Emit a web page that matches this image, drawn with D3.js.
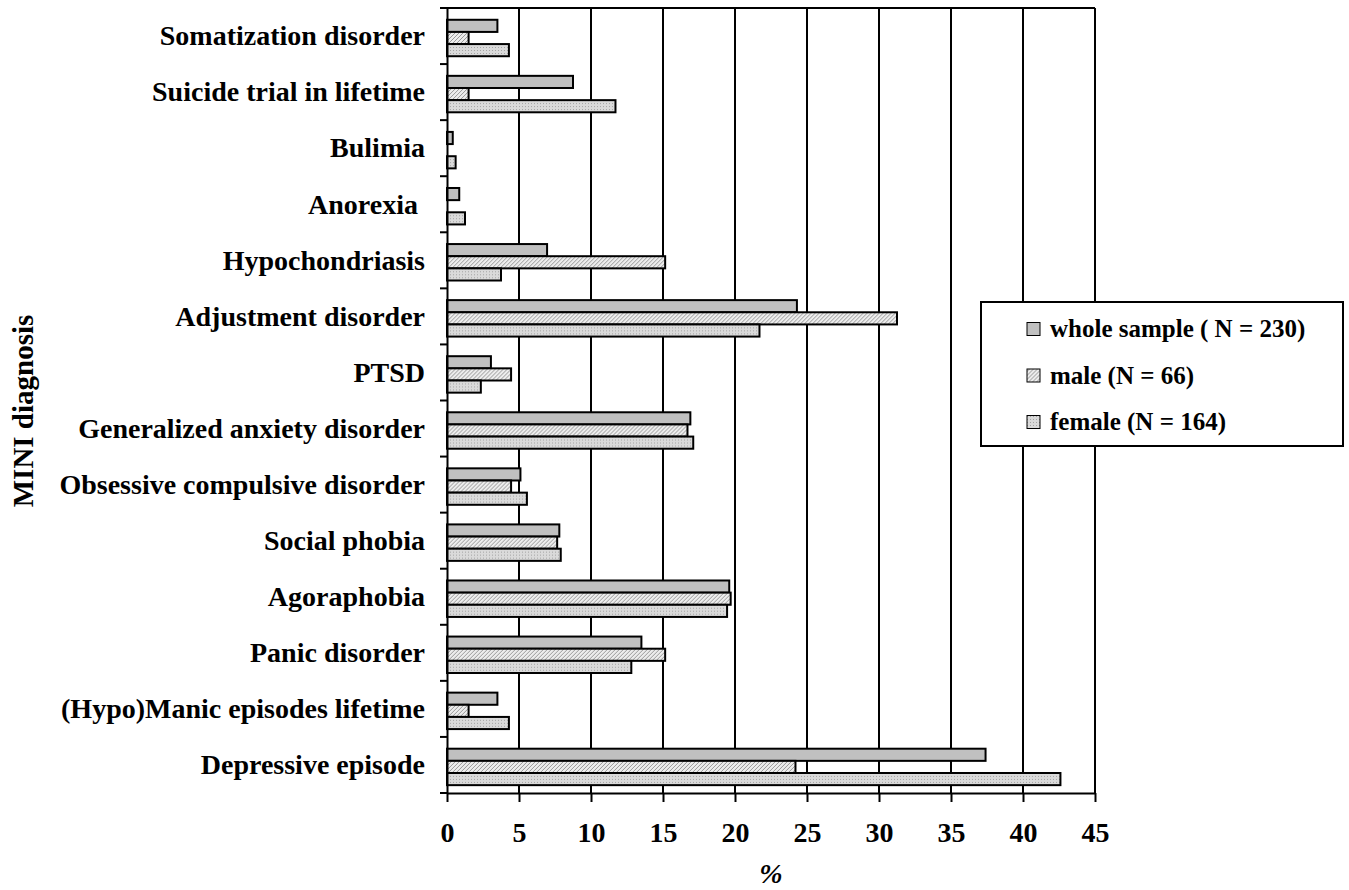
<!DOCTYPE html>
<html>
<head>
<meta charset="utf-8">
<script src="https://cdn.jsdelivr.net/npm/d3@7"></script>
<style>
  body { margin: 0; background: #fff; }
  svg text { font-family: "Liberation Serif", "Times New Roman", serif; font-weight: bold; fill: #000; }
</style>
</head>
<body>
<div id="chart"></div>
<script>
// MINI diagnoses, % of sample (whole / male / female)

const categories = [
  "Somatization disorder", "Suicide trial in lifetime", "Bulimia", "Anorexia ",
  "Hypochondriasis", "Adjustment disorder", "PTSD", "Generalized anxiety disorder",
  "Obsessive compulsive disorder", "Social phobia", "Agoraphobia", "Panic disorder",
  "(Hypo)Manic episodes lifetime", "Depressive episode"
];
const wholeSample = [3.5, 8.75, 0.4, 0.85, 6.95, 24.3, 3.05, 16.9, 5.1, 7.8, 19.6, 13.5, 3.5, 37.4];
const male        = [1.5, 1.5, 0, 0, 15.15, 31.25, 4.45, 16.7, 4.45, 7.65, 19.7, 15.15, 1.5, 24.2];
const female      = [4.3, 11.7, 0.6, 1.25, 3.75, 21.7, 2.35, 17.1, 5.55, 7.9, 19.45, 12.8, 4.3, 42.6];
const seriesNames = ["whole sample ( N = 230)", "male (N = 66)", "female (N = 164)"];
const xTicks = [0, 5, 10, 15, 20, 25, 30, 35, 40, 45];

const width = 1349, height = 890;
const margin = {top: 8, right: 254, bottom: 97, left: 447};

const svg = d3.select("#chart")
  .append("svg")
  .attr("width", width)
  .attr("height", height);

// fills: solid, hatched, dotted
const defs = svg.append("defs");
const hatch = defs.append("pattern").attr("id", "hatch")
  .attr("patternUnits", "userSpaceOnUse").attr("width", 4).attr("height", 4);
hatch.append("rect").attr("width", 4).attr("height", 4).attr("fill", "#ececec");
hatch.append("path").attr("d", "M-1,1 l2,-2 M0,4 l4,-4 M3,5 l2,-2")
  .attr("stroke", "#999").attr("stroke-width", 1);
const dots = defs.append("pattern").attr("id", "dots")
  .attr("patternUnits", "userSpaceOnUse").attr("width", 3).attr("height", 3);
dots.append("rect").attr("width", 3).attr("height", 3).attr("fill", "#dadada");
dots.append("rect").attr("width", 1).attr("height", 1).attr("fill", "#a4a4a4");

const fills = ["#c0c0c0", "url(#hatch)", "url(#dots)"];

const x = d3.scaleLinear()
  .domain([0, 45])
  .range([margin.left, width - margin.right]);

const y = d3.scaleBand()
  .domain(categories)
  .range([margin.top, height - margin.bottom]);

const ySub = d3.scaleBand()
  .domain(seriesNames)
  .range([y.bandwidth() * 0.21, y.bandwidth() * 0.86]);

const rows = categories.map((c, i) => ({
  cat: c,
  vals: [wholeSample[i], male[i], female[i]]
}));

// vertical grid lines (also the right border)
svg.append("g")
  .selectAll("line")
  .data(xTicks.slice(1))
  .join("line")
  .attr("x1", d => x(d)).attr("x2", d => x(d))
  .attr("y1", y.range()[0]).attr("y2", y.range()[1])
  .attr("stroke", "#000").attr("stroke-width", 2);

// top border
svg.append("line")
  .attr("x1", x(0) - 6).attr("x2", x(45))
  .attr("y1", y.range()[0]).attr("y2", y.range()[0])
  .attr("stroke", "#000").attr("stroke-width", 2);

// bars
svg.append("g")
  .selectAll("g")
  .data(rows)
  .join("g")
  .attr("transform", d => `translate(0,${y(d.cat)})`)
  .selectAll("rect")
  .data(d => d.vals.map((v, j) => ({key: seriesNames[j], v, j})).filter(e => e.v > 0))
  .join("rect")
  .attr("x", x(0))
  .attr("y", d => ySub(d.key))
  .attr("width", d => x(d.v) - x(0))
  .attr("height", ySub.bandwidth())
  .attr("fill", d => fills[d.j])
  .attr("stroke", "#000")
  .attr("stroke-width", 2);

// left axis: labels at band centres, ticks at band boundaries
const yAxis = svg.append("g")
  .attr("transform", `translate(${x(0)},0)`)
  .call(d3.axisLeft(y).tickSizeInner(0).tickSizeOuter(0).tickPadding(22));
yAxis.select(".domain").attr("stroke-width", 2);
yAxis.selectAll("text")
  .attr("font-size", 28)
  .attr("dy", "0.33em")
  .style("white-space", "pre");

yAxis.selectAll(".bound")
  .data(categories.map(c => y(c)).concat([y.range()[1]]))
  .join("line")
  .attr("class", "bound")
  .attr("x1", -7).attr("x2", 0)
  .attr("y1", d => d).attr("y2", d => d)
  .attr("stroke", "#000").attr("stroke-width", 2);

// bottom axis
const xAxis = svg.append("g")
  .attr("transform", `translate(0,${y.range()[1]})`)
  .call(d3.axisBottom(x).tickValues(xTicks).tickSizeInner(9).tickSizeOuter(0));
xAxis.select(".domain").attr("stroke-width", 2);
xAxis.selectAll(".tick line").attr("stroke-width", 2);
xAxis.selectAll("text")
  .attr("font-size", 28)
  .attr("y", 49)
  .attr("dy", 0);

// axis titles
svg.append("text")
  .attr("x", (x(0) + x(45)) / 2)
  .attr("y", 883)
  .attr("text-anchor", "middle")
  .attr("font-size", 28)
  .attr("font-style", "italic")
  .text("%");

svg.append("text")
  .attr("transform", "translate(33,411) rotate(-90)")
  .attr("text-anchor", "middle")
  .attr("font-size", 29)
  .text("MINI diagnosis");

// legend
const legend = svg.append("g").attr("transform", "translate(981,302)");
legend.append("rect")
  .attr("width", 362).attr("height", 144)
  .attr("fill", "#fff").attr("stroke", "#000").attr("stroke-width", 2);

const item = legend.selectAll("g.item")
  .data(seriesNames)
  .join("g")
  .attr("class", "item")
  .attr("transform", (d, i) => `translate(46,${27 + i * 46.5})`);
item.append("rect")
  .attr("width", 13).attr("height", 13).attr("y", -6.5)
  .attr("fill", (d, i) => fills[i])
  .attr("stroke", "#000").attr("stroke-width", 1);
item.append("text")
  .attr("x", 23)
  .attr("dy", "0.33em")
  .attr("font-size", 25)
  .text(d => d);
</script>
</body>
</html>
